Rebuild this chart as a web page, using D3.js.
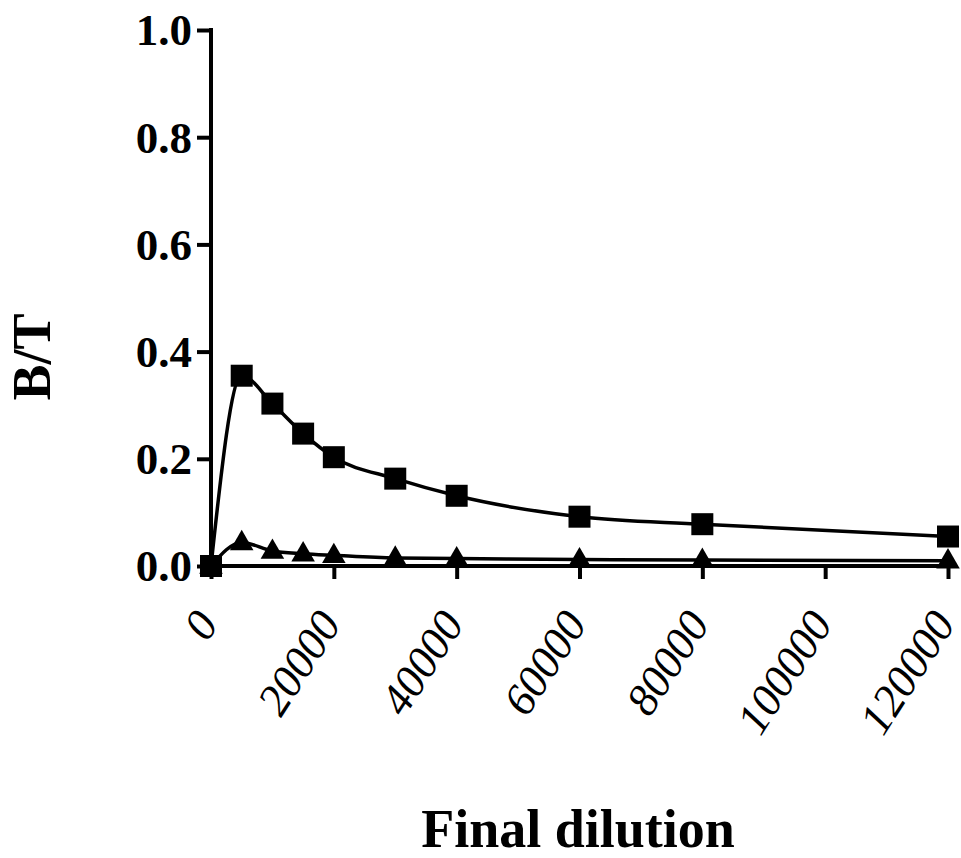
<!DOCTYPE html>
<html>
<head>
<meta charset="utf-8">
<script src="https://cdn.jsdelivr.net/npm/d3@7"></script>
<style>
  body { margin: 0; background: #fff; }
  text { font-family: "Liberation Serif", "Times New Roman", serif; fill: #000; }
</style>
</head>
<body>
<svg id="viz" width="961" height="858"></svg>
<script>
// data
var dilution = [0, 5000, 10000, 15000, 20000, 30000, 40000, 60000, 80000, 120000];
var squareBT = [0, 0.355, 0.303, 0.247, 0.203, 0.163, 0.131, 0.092, 0.078, 0.055];
var triangleBT = [0, 0.044, 0.028, 0.023, 0.020, 0.015, 0.014, 0.012, 0.011, 0.010];
var xTicks = [0, 20000, 40000, 60000, 80000, 100000, 120000];
var yTicks = [0, 0.2, 0.4, 0.6, 0.8, 1.0];

var svg = d3.select("#viz");

var x = d3.scaleLinear().domain([0, 120000]).range([211, 948]);
var y = d3.scaleLinear().domain([0, 1]).range([566, 30]);

// lines
var line = d3.line()
    .x(d => x(d[0]))
    .y(d => y(d[1]))
    .curve(d3.curveMonotoneX);

var sq = dilution.map((d, i) => [d, squareBT[i]]);
var tri = dilution.map((d, i) => [d, triangleBT[i]]);

svg.append("path").datum(tri).attr("d", line)
    .attr("fill", "none").attr("stroke", "#000").attr("stroke-width", 3.5);
svg.append("path").datum(sq).attr("d", line)
    .attr("fill", "none").attr("stroke", "#000").attr("stroke-width", 3.5);

// axes
var yAxis = svg.append("g")
    .attr("transform", "translate(" + x(0) + ",0)")
    .call(d3.axisLeft(y).tickValues(yTicks).tickSize(14).tickPadding(5).tickFormat(d3.format(".1f")));
var xAxis = svg.append("g")
    .attr("transform", "translate(0," + y(0) + ")")
    .call(d3.axisBottom(x).tickValues(xTicks).tickSize(13).tickFormat(d3.format("d")));

yAxis.select(".domain").attr("stroke-width", 4).attr("d", "M0," + (y(1) - 2) + "V" + y(0));
xAxis.select(".domain").attr("stroke-width", 4).attr("d", "M" + x(0) + ",0H" + x(120000));
svg.selectAll(".tick line").attr("stroke", "#000").attr("stroke-width", 4);

yAxis.selectAll("text")
    .style("font-family", "Liberation Serif, serif")
    .style("font-weight", "bold")
    .style("font-size", "45px")
    .attr("dy", "0.33em");

xAxis.selectAll("text")
    .style("font-family", "Liberation Serif, serif")
    .style("font-style", "italic")
    .style("font-size", "45px")
    .attr("text-anchor", "end")
    .attr("dy", 0)
    .attr("y", 0)
    .attr("transform", "translate(8,58) rotate(-57)");

// markers
svg.selectAll(".tri").data(tri).enter().append("path")
    .attr("class", "tri")
    .attr("d", d3.symbol().type(d3.symbolTriangle).size(240))
    .attr("transform", d => "translate(" + x(d[0]) + "," + (y(d[1]) + 1) + ")")
    .attr("fill", "#000");

svg.selectAll(".sq").data(sq).enter().append("rect")
    .attr("class", "sq")
    .attr("x", d => x(d[0]) - 11)
    .attr("y", d => y(d[1]) - 11)
    .attr("width", 22).attr("height", 22)
    .attr("fill", "#000");

// titles
svg.append("text")
    .attr("transform", "translate(50,357) rotate(-90)")
    .attr("text-anchor", "middle")
    .style("font-weight", "bold")
    .style("font-size", "54px")
    .text("B/T");

svg.append("text")
    .attr("x", 578).attr("y", 847)
    .attr("text-anchor", "middle")
    .style("font-weight", "bold")
    .style("font-size", "54px")
    .text("Final dilution");
</script>
</body>
</html>
